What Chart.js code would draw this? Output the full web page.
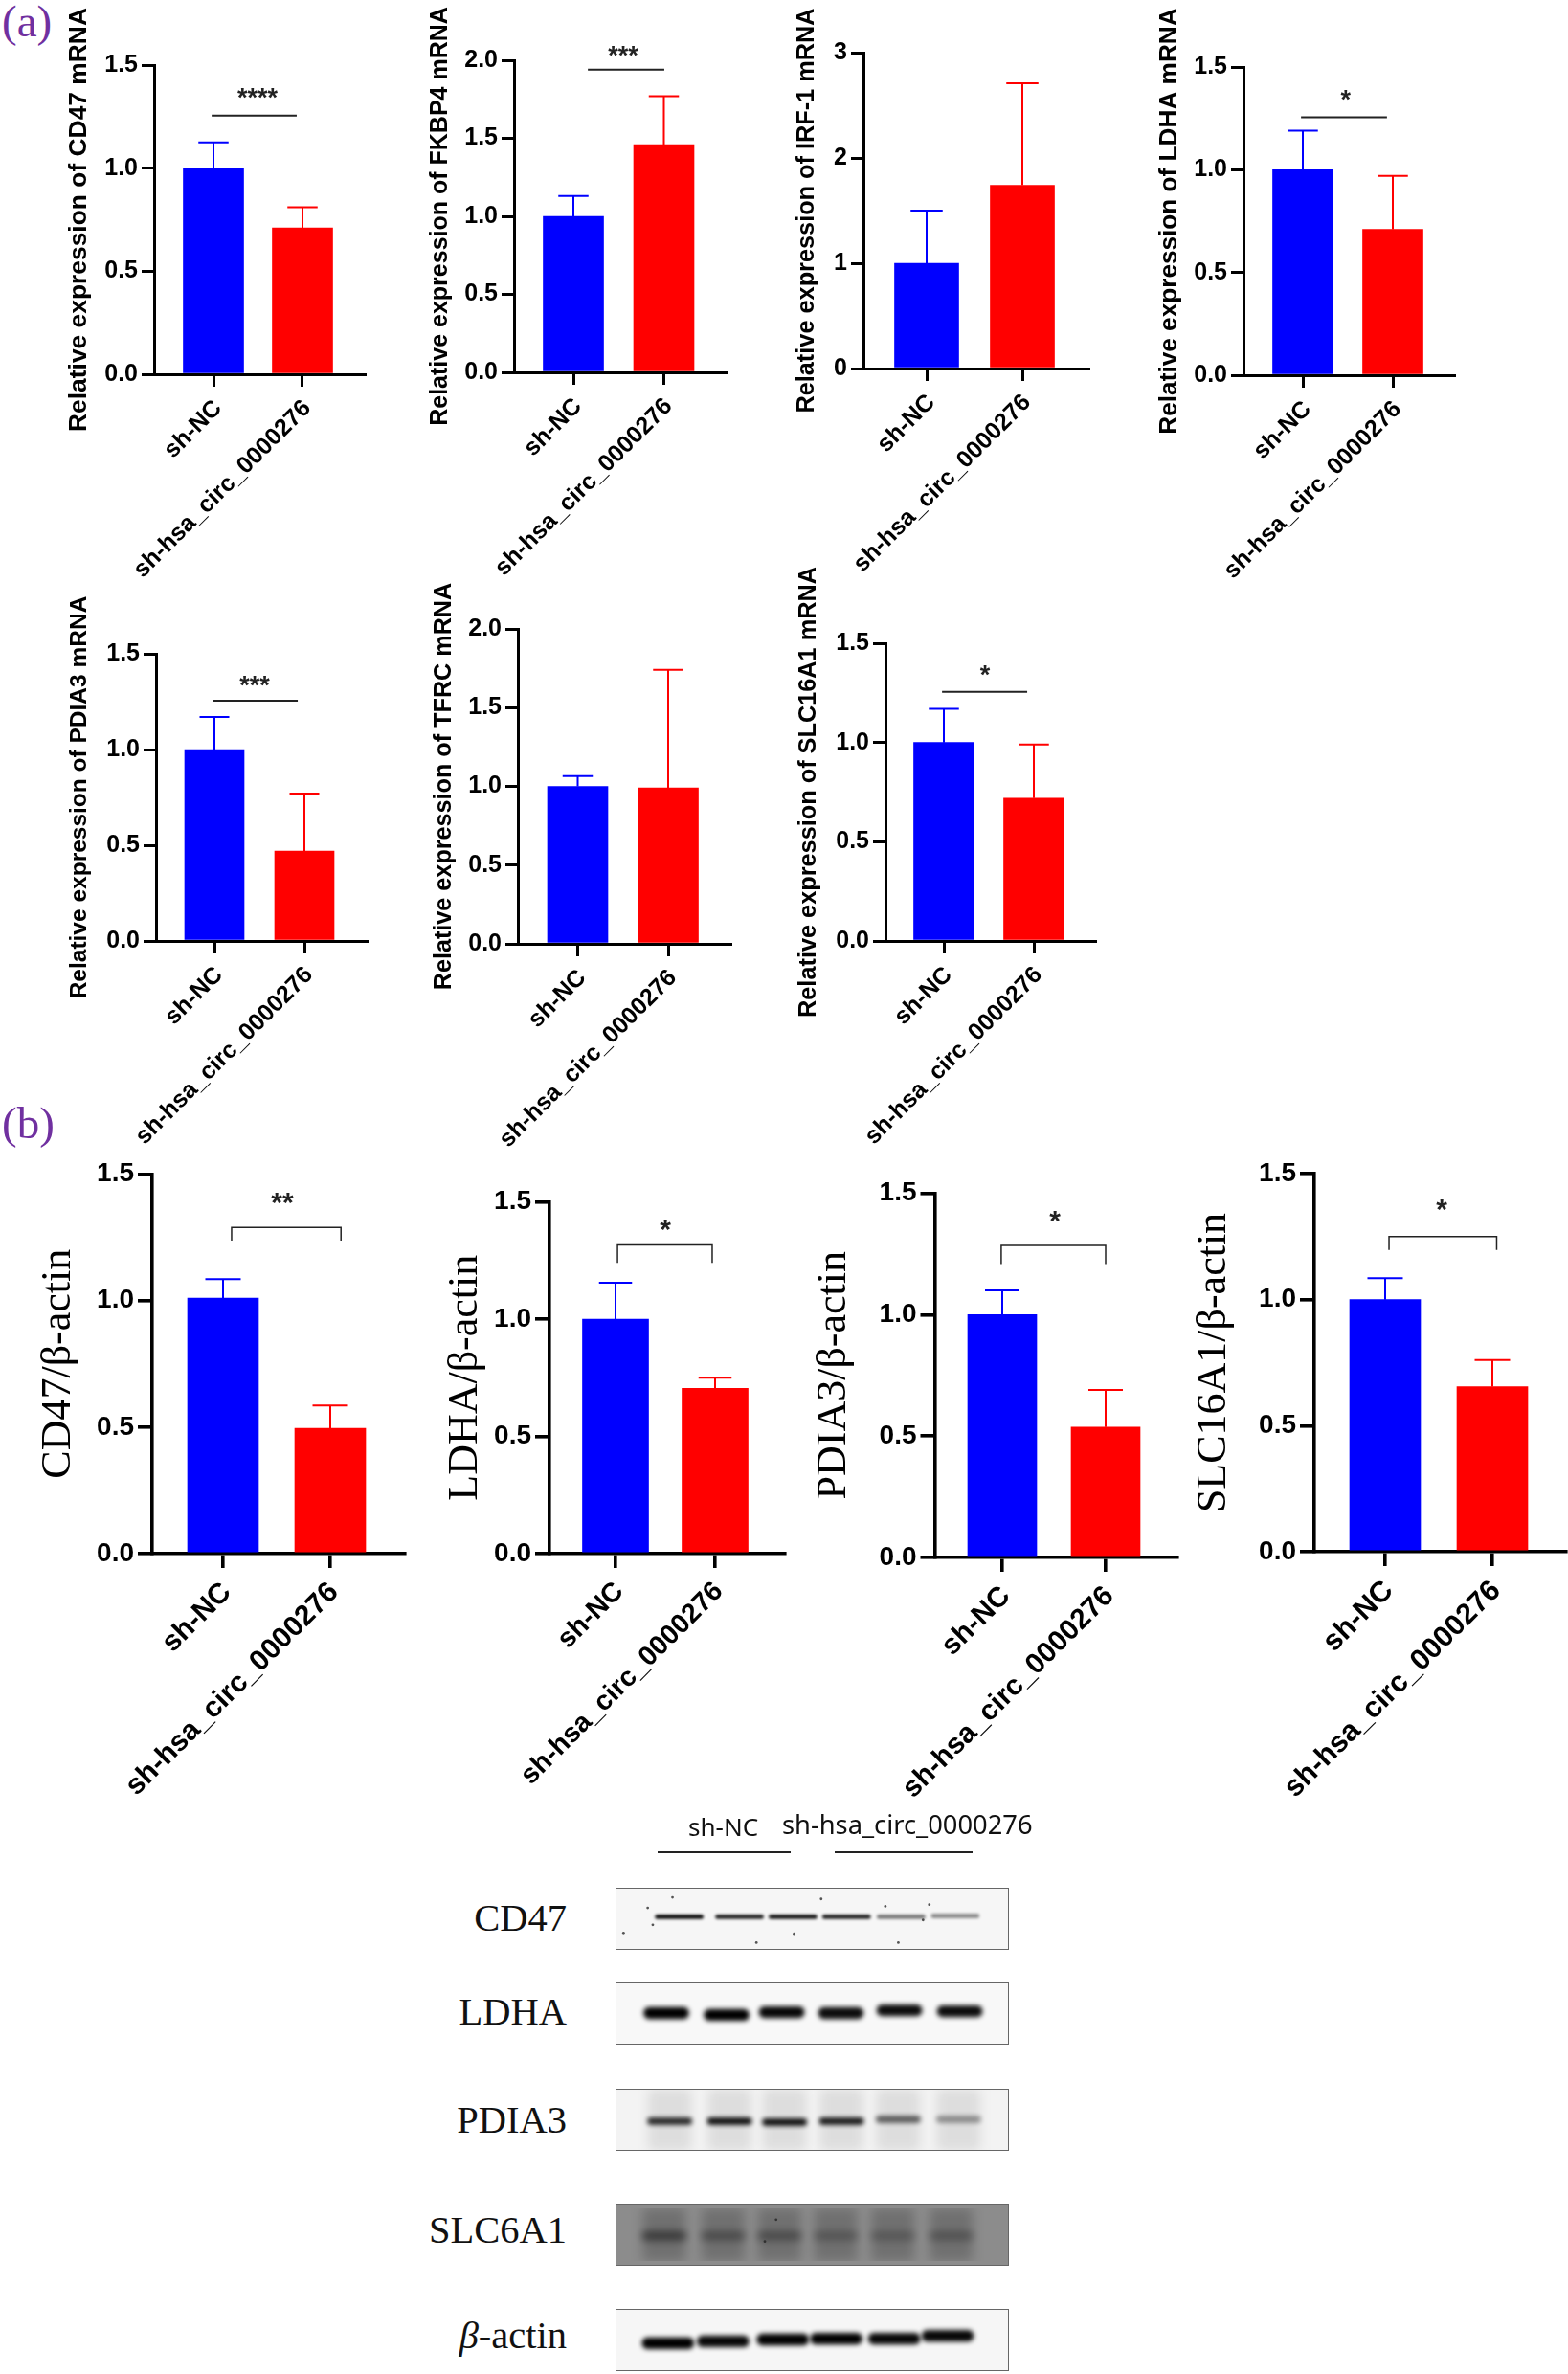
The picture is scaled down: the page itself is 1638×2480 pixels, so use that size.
<!DOCTYPE html>
<html>
<head>
<meta charset="utf-8">
<title>sh-hsa_circ_0000276</title>
<script src="https://cdn.jsdelivr.net/npm/chart.js@4"></script>
<style>
  html, body { margin: 0; padding: 0; background: #fff; }
  #page { position: relative; width: 1638px; height: 2480px; overflow: hidden; }
  #page canvas { position: absolute; }
  .tag { position: absolute; font-family: "Liberation Serif", serif; font-size: 47px; line-height: 47px; color: #7030a0; }
  .lbl { position: absolute; font-family: "Liberation Serif", serif; font-size: 40.5px; line-height: 40px; color: #111; text-align: right; width: 200px; }
  .head { position: absolute; font-family: "Noto Sans", sans-serif; font-size: 27.3px; line-height: 30px; color: #111; white-space: nowrap; }
  .rule { position: absolute; height: 2px; background: #222; }
  .gel { position: absolute; box-sizing: border-box; border: 1px solid #666; overflow: hidden; }
</style>
</head>
<body>
<div id="page"></div>
<script>
const groups = ['sh-NC', 'sh-hsa_circ_0000276'];

// panel (a) qPCR
const mrnaTitles = ['CD47', 'FKBP4', 'IRF-1', 'LDHA', 'PDIA3', 'TFRC', 'SLC16A1'];
const mrnaMeans = [[1.0, 0.71], [1.0, 1.46], [1.0, 1.74], [1.0, 0.71], [1.0, 0.47], [1.0, 0.99], [1.0, 0.72]];
const mrnaErrTops = [[1.125, 0.81], [1.13, 1.77], [1.5, 2.71], [1.19, 0.97], [1.17, 0.77], [1.065, 1.74], [1.17, 0.99]];
const mrnaYMax = [1.5, 2, 3, 1.5, 1.5, 2, 1.5];
const mrnaYStep = [0.5, 0.5, 1, 0.5, 0.5, 0.5, 0.5];
const mrnaStars = ['****', '***', '', '*', '***', '', '*'];
const mrnaLineY = [1.255, 1.94, null, 1.255, 1.255, null, 1.255];
const mrnaLineX = [[0.98, 1.935], [1.16, 2.005], null, [0.98, 1.935], [0.98, 1.926], null, [0.98, 1.926]];
const mrnaStarAt = [[1.495, 1.357], [1.55, 2.05], null, [1.477, 1.356], [1.447, 1.354], null, [1.457, 1.356]];

// panel (b) western blot densitometry
const wbTitles = ['CD47/β-actin', 'LDHA/β-actin', 'PDIA3/β-actin', 'SLC16A1/β-actin'];
const wbMeans = [[1.01, 0.495], [1.0, 0.705], [1.0, 0.537], [1.0, 0.655]];
const wbErrTops = [[1.085, 0.585], [1.155, 0.75], [1.10, 0.69], [1.085, 0.76]];
const wbStars = ['**', '*', '*', '*'];
const wbLineY = [1.289, 1.316, 1.285, 1.25];
const wbLegY = [1.237, 1.24, 1.208, 1.197];
const wbLineX = [[1.08, 2.10], [1.02, 1.971], [0.99, 2.0], [1.036, 2.04]];
const wbStarAt = [[1.554, 1.40], [1.5, 1.398], [1.51, 1.40], [1.527, 1.371]];

// blots: lane position, band centre (gel units from the top) and darkness per lane
const blotNames = ['CD47', 'LDHA', 'PDIA3', 'SLC6A1'];
const cd47Lane = [1.08, 2.15, 3.1, 4.05, 5.02, 5.98];
const cd47Band = [30, 30, 30, 30, 30, 29];
const cd47Dark = [0.95, 0.85, 0.9, 0.85, 0.5, 0.42];
const ldhaLane = [0.9, 1.95, 2.91, 3.94, 4.96, 6.01];
const ldhaBand = [32, 34, 31, 32, 29, 30];
const ldhaDark = [1, 1, 0.97, 0.95, 0.95, 0.95];
const pdia3Lane = [0.96, 2.0, 2.96, 3.95, 4.94, 5.99];
const pdia3Band = [34, 34, 35, 34, 32, 32];
const pdia3Dark = [0.85, 0.97, 0.97, 0.92, 0.6, 0.38];
const slcLane = [0.81, 1.86, 2.86, 3.86, 4.87, 5.91];
const slcBand = [34, 34, 34, 34, 34, 34];
const slcDark = [0.55, 0.38, 0.38, 0.28, 0.26, 0.3];
const actinLane = [0.93, 1.89, 2.93, 3.86, 4.87, 5.8];
const actinBand = [36, 34, 32, 31, 31, 28];
const actinDark = [1, 0.97, 1, 1, 0.97, 0.97];
const cd47Specks = [[0.52, 19], [0.61, 40], [0.09, 50], [3.6, 8], [4.74, 17], [0.96, 6], [5.52, 15], [3.12, 51], [4.97, 62], [2.45, 62], [5.41, 34]];
const slcSpecks = [[2.8, 14], [2.6, 41]];

// where each plot sits on the page: y axis x, x axis end, top, bottom, bar centres, bar width
const mrnaFrames = [
  { left: 161, right: 381, top: 68, bottom: 391, c: [223, 316], bar: 63, tx: 83, ts: 26.4 },
  { left: 537, right: 758, top: 63, bottom: 389, c: [599, 693.5], bar: 63, tx: 460, ts: 25 },
  { left: 902, right: 1137, top: 55, bottom: 385, c: [968, 1068], bar: 67, tx: 843, ts: 25.3 },
  { left: 1299, right: 1519, top: 70, bottom: 391.5, c: [1361, 1455], bar: 63, tx: 1222, ts: 26.2 },
  { left: 163, right: 383, top: 683, bottom: 983, c: [224, 318], bar: 62, tx: 84, ts: 24.5 },
  { left: 541, right: 763, top: 657, bottom: 986, c: [603.5, 698], bar: 63, tx: 464, ts: 25.2 },
  { left: 925, right: 1144, top: 672, bottom: 982.5, c: [986, 1080], bar: 63, tx: 845, ts: 25.3 }
];
const wbFrames = [
  { left: 159, right: 423, top: 1226.5, bottom: 1622, c: [233, 345], bar: 74, tx: 61, xs: 30 },
  { left: 574, right: 820, top: 1255.5, bottom: 1622, c: [643, 747], bar: 69, tx: 486, xs: 28.5 },
  { left: 976.5, right: 1230, top: 1246.5, bottom: 1626, c: [1047, 1155], bar: 72, tx: 871.5, xs: 29.8 },
  { left: 1373, right: 1636, top: 1226, bottom: 1621, c: [1447, 1559], bar: 74, tx: 1268, xs: 30.5 }
];

const page = document.getElementById('page');

function addCanvas(x, y, w, h, parent) {
  const c = document.createElement('canvas');
  c.width = w;
  c.height = h;
  c.style.width = w + 'px';
  c.style.height = h + 'px';
  c.style.left = x + 'px';
  c.style.top = y + 'px';
  (parent || page).appendChild(c);
  return c;
}

function addText(cls, text, css) {
  const d = document.createElement('div');
  d.className = cls;
  d.innerHTML = text;
  Object.assign(d.style, css);
  page.appendChild(d);
}

// error bars and significance marks, read through the chart's scales
const markPlugin = {
  id: 'marks',
  afterDatasetsDraw(chart, args, opts) {
    const { ctx, scales: { x, y } } = chart;
    ctx.save();
    ctx.lineWidth = opts.errWidth;
    opts.means.forEach((m, i) => {
      const px = x.getPixelForValue(i + 1);
      const top = y.getPixelForValue(opts.errTops[i]);
      ctx.strokeStyle = i === 0 ? '#0000ff' : '#ff0000';
      ctx.beginPath();
      ctx.moveTo(px, y.getPixelForValue(m));
      ctx.lineTo(px, top);
      ctx.moveTo(px - opts.cap, top);
      ctx.lineTo(px + opts.cap, top);
      ctx.stroke();
    });
    if (opts.lineX) {
      const y0 = y.getPixelForValue(opts.lineY);
      const x0 = x.getPixelForValue(opts.lineX[0]);
      const x1 = x.getPixelForValue(opts.lineX[1]);
      ctx.strokeStyle = '#222';
      ctx.lineWidth = opts.sigWidth;
      ctx.beginPath();
      if (opts.legY != null) {
        const y1 = y.getPixelForValue(opts.legY);
        ctx.moveTo(x0, y1);
        ctx.lineTo(x0, y0);
        ctx.lineTo(x1, y0);
        ctx.lineTo(x1, y1);
      } else {
        ctx.moveTo(x0, y0);
        ctx.lineTo(x1, y0);
      }
      ctx.stroke();
      ctx.fillStyle = '#222';
      ctx.font = opts.starFont;
      ctx.textAlign = 'center';
      ctx.textBaseline = 'middle';
      ctx.fillText(opts.stars, x.getPixelForValue(opts.starAt[0]), y.getPixelForValue(opts.starAt[1]) + opts.starDrop);
    }
    ctx.restore();
  }
};

function barPanel(f, cfg) {
  const padTop = 110;
  const lh = cfg.titleSize * 1.2;
  const cx = Math.round(f.tx - lh / 2);
  const cy = Math.round(f.top - padTop);
  const width = f.right - cx + 4;
  const xH = 270;
  const unit = f.c[1] - f.c[0];
  const xMin = 1 - (f.c[0] - f.left) / unit;
  const canvas = addCanvas(cx, cy, Math.ceil(width), Math.ceil(padTop + f.bottom - f.top + xH));
  const axisInk = '#000';
  return new Chart(canvas, {
    type: 'bar',
    plugins: [markPlugin],
    data: {
      datasets: [{
        data: cfg.means.map((m, i) => ({ x: i + 1, y: m })),
        backgroundColor: ['#0000ff', '#ff0000'],
        barThickness: f.bar,
        borderWidth: 0
      }]
    },
    options: {
      responsive: false,
      animation: false,
      devicePixelRatio: 1,
      layout: { padding: { top: padTop + (f.top - Math.round(f.top)), right: 4, left: 0, bottom: 0 } },
      plugins: {
        legend: { display: false },
        tooltip: { enabled: false },
        marks: {
          means: cfg.means,
          errTops: cfg.errTops,
          errWidth: cfg.errWidth,
          cap: f.bar / 4,
          stars: cfg.stars,
          lineX: cfg.lineX,
          lineY: cfg.lineY,
          legY: cfg.legY,
          starAt: cfg.starAt,
          starFont: cfg.starFont,
          starDrop: cfg.starDrop,
          sigWidth: cfg.sigWidth
        }
      },
      scales: {
        x: {
          type: 'linear',
          offset: false,
          min: xMin,
          max: xMin + (f.right - f.left) / unit,
          afterBuildTicks: (s) => { s.ticks = [{ value: 1 }, { value: 2 }]; },
          afterFit: (s) => { s.height = xH; },
          grid: { offset: false, drawOnChartArea: false, color: axisInk, tickLength: cfg.tickLen, lineWidth: cfg.axisWidth },
          border: { color: axisInk, width: cfg.axisWidth },
          ticks: {
            autoSkip: false,
            minRotation: 45,
            maxRotation: 45,
            padding: cfg.xPad,
            labelOffset: cfg.xNudge,
            color: '#000',
            font: { family: '"Liberation Sans"', size: cfg.xSize, weight: 'bold' },
            callback: (v) => groups[v - 1]
          }
        },
        y: {
          min: 0,
          max: cfg.yMax,
          afterFit: (s) => { s.width = f.left - cx; },
          grid: { drawOnChartArea: false, color: axisInk, tickLength: cfg.tickLen, lineWidth: cfg.axisWidth },
          border: { color: axisInk, width: cfg.axisWidth },
          ticks: {
            stepSize: cfg.yStep,
            padding: 4,
            color: '#000',
            font: { family: '"Liberation Sans"', size: cfg.ySize, weight: 'bold' },
            callback: (v) => (cfg.yStep === 1 ? String(v) : v.toFixed(1))
          },
          title: {
            display: true,
            text: cfg.title,
            color: '#000',
            padding: 0,
            font: { family: cfg.titleFamily, size: cfg.titleSize, weight: cfg.titleWeight, lineHeight: 1.2 }
          }
        }
      }
    }
  });
}

mrnaFrames.forEach((f, i) => barPanel(f, {
  title: 'Relative expression of ' + mrnaTitles[i] + ' mRNA',
  titleFamily: '"Liberation Sans"',
  titleWeight: 'bold',
  titleSize: f.ts,
  means: mrnaMeans[i],
  errTops: mrnaErrTops[i],
  yMax: mrnaYMax[i],
  yStep: mrnaYStep[i],
  stars: mrnaStars[i],
  lineX: mrnaLineX[i],
  lineY: mrnaLineY[i],
  legY: null,
  starAt: mrnaStarAt[i],
  starFont: 'bold 27px "Liberation Sans"',
  starDrop: 5,
  sigWidth: 2,
  errWidth: 2,
  axisWidth: 3,
  tickLen: 13,
  xSize: 25,
  ySize: 25,
  xPad: 8,
  xNudge: 5
}));

wbFrames.forEach((f, i) => barPanel(f, {
  title: wbTitles[i],
  titleFamily: '"Liberation Serif"',
  titleWeight: 'normal',
  titleSize: 44,
  means: wbMeans[i],
  errTops: wbErrTops[i],
  yMax: 1.5,
  yStep: 0.5,
  stars: wbStars[i],
  lineX: wbLineX[i],
  lineY: wbLineY[i],
  legY: wbLegY[i],
  starAt: wbStarAt[i],
  starFont: 'bold 30px "Liberation Sans"',
  starDrop: 5,
  sigWidth: 1.5,
  errWidth: 2,
  axisWidth: 3.6,
  tickLen: 15,
  xSize: f.xs,
  ySize: 28,
  xPad: 8,
  xNudge: 4
}));

// blots: floating bars on a lane / gel-depth scale, softened when drawn
const softBands = {
  id: 'softBands',
  beforeDatasetDraw(chart, args) {
    const blur = chart.data.datasets[args.index].blur;
    if (blur) { chart.ctx.save(); chart.ctx.filter = 'blur(' + blur + 'px)'; }
  },
  afterDatasetDraw(chart, args) {
    if (chart.data.datasets[args.index].blur) chart.ctx.restore();
  }
};

function blotPanel(top, bg, opts) {
  const gel = document.createElement('div');
  gel.className = 'gel';
  Object.assign(gel.style, { left: '643px', top: top + 'px', width: '411px', height: '65px', background: bg });
  page.appendChild(gel);
  const canvas = addCanvas(0, 0, 409, 63, gel);
  const datasets = [{
    data: opts.lane.map((l, i) => ({ x: l, y: [opts.band[i] - opts.thick / 2, opts.band[i] + opts.thick / 2] })),
    backgroundColor: opts.dark.map((a) => 'rgba(0,0,0,' + a + ')'),
    barThickness: opts.width,
    grouped: false,
    borderRadius: opts.thick / 2,
    borderSkipped: false,
    borderWidth: 0,
    blur: opts.blur,
    order: 1
  }];
  if (opts.smear) {
    datasets.push({
      data: opts.lane.map((l) => ({ x: l, y: [0, 65] })),
      backgroundColor: opts.smear,
      barThickness: 44,
      grouped: false,
      borderWidth: 0,
      blur: 6,
      order: 2
    });
  }
  if (opts.specks) {
    datasets.push({
      type: 'scatter',
      data: opts.specks.map((s) => ({ x: s[0], y: s[1] })),
      backgroundColor: 'rgba(30,30,30,0.75)',
      pointRadius: 1.4,
      borderWidth: 0,
      order: 0
    });
  }
  new Chart(canvas, {
    type: 'bar',
    plugins: [softBands],
    data: { datasets },
    options: {
      responsive: false,
      animation: false,
      devicePixelRatio: 1,
      plugins: { legend: { display: false }, tooltip: { enabled: false } },
      scales: {
        x: { type: 'linear', display: false, offset: false, min: 0.033, max: 6.85 },
        y: { display: false, reverse: true, min: 0, max: 65 }
      }
    }
  });
}

blotPanel(1972, '#f6f6f6', { lane: cd47Lane, band: cd47Band, dark: cd47Dark, thick: 5, width: 50, blur: 1.8, specks: cd47Specks });
blotPanel(2071, '#f8f8f8', { lane: ldhaLane, band: ldhaBand, dark: ldhaDark, thick: 12, width: 47, blur: 2.8 });
blotPanel(2182, '#f3f3f3', { lane: pdia3Lane, band: pdia3Band, dark: pdia3Dark, thick: 7, width: 46, blur: 2.4, smear: 'rgba(0,0,0,0.09)' });
blotPanel(2302, '#8c8c8c', { lane: slcLane, band: slcBand, dark: slcDark, thick: 10, width: 46, blur: 4, smear: 'rgba(0,0,0,0.2)', specks: slcSpecks });
blotPanel(2412, '#f6f6f6', { lane: actinLane, band: actinBand, dark: actinDark, thick: 12, width: 54, blur: 2.6 });

// page furniture
addText('tag', '(a)', { left: '2px', top: '-1px' });
addText('tag', '(b)', { left: '2px', top: '1150px' });
addText('head', 'sh-NC', { left: '719px', top: '1893px', fontSize: '26px' });
addText('head', groups[1], { left: '817px', top: '1891px' });
addText('rule', '', { left: '687px', top: '1934px', width: '139px' });
addText('rule', '', { left: '872px', top: '1934px', width: '144px' });
[2004, 2102, 2215, 2330].forEach((y, i) => {
  addText('lbl', blotNames[i], { left: '392px', top: (y - 20) + 'px' });
});
addText('lbl', '<i>β</i>-actin', { left: '392px', top: '2420px' });
</script>
</body>
</html>
